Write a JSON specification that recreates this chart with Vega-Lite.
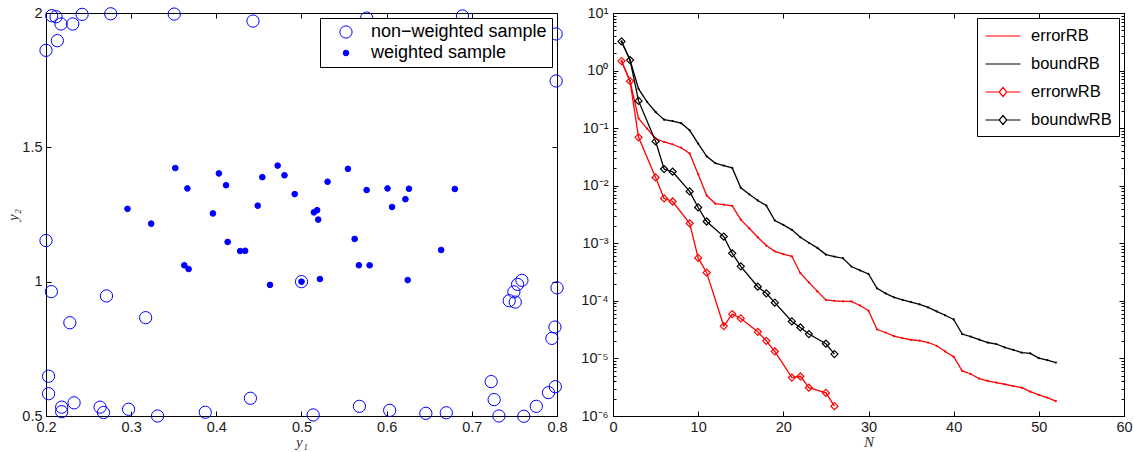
{
  "$schema": "https://vega.github.io/schema/vega-lite/v6.json",
  "padding": 5,
  "bounds": "flush",
  "spacing": 56,
  "resolve": {"legend": {"color": "independent", "size": "independent", "fill": "independent"}, "scale": {"color": "independent", "size": "independent", "fill": "independent"}},
  "config": {
    "font": "Liberation Sans",
    "view": {"stroke": null},
    "axis": {
      "grid": false,
      "domainColor": "#000000",
      "domainWidth": 1,
      "tickColor": "#000000",
      "tickWidth": 1,
      "tickSize": -5,
      "labelPadding": 9,
      "labelFont": "Liberation Sans",
      "labelFontSize": 14.5,
      "labelColor": "#1a1a1a",
      "labelFlush": false,
      "labelOverlap": false,
      "titleFont": "Liberation Serif",
      "titleFontStyle": "italic",
      "titleFontWeight": "normal",
      "titleFontSize": 15,
      "titleColor": "#333333",
      "titlePadding": 1
    }
  },
  "datasets": {
    "left": [
      {"y1": 0.2067, "y2": 1.990, "sample": "non−weighted sample"},
      {"y1": 0.2118, "y2": 1.986, "sample": "non−weighted sample"},
      {"y1": 0.2176, "y2": 1.959, "sample": "non−weighted sample"},
      {"y1": 0.2314, "y2": 1.959, "sample": "non−weighted sample"},
      {"y1": 0.2424, "y2": 1.995, "sample": "non−weighted sample"},
      {"y1": 0.276, "y2": 1.997, "sample": "non−weighted sample"},
      {"y1": 0.3506, "y2": 1.996, "sample": "non−weighted sample"},
      {"y1": 0.443, "y2": 1.970, "sample": "non−weighted sample"},
      {"y1": 0.2133, "y2": 1.897, "sample": "non−weighted sample"},
      {"y1": 0.2, "y2": 1.861, "sample": "non−weighted sample"},
      {"y1": 0.5765, "y2": 1.981, "sample": "non−weighted sample"},
      {"y1": 0.689, "y2": 1.989, "sample": "non−weighted sample"},
      {"y1": 0.799, "y2": 1.922, "sample": "non−weighted sample"},
      {"y1": 0.799, "y2": 1.747, "sample": "non−weighted sample"},
      {"y1": 0.2, "y2": 1.153, "sample": "non−weighted sample"},
      {"y1": 0.2063, "y2": 0.963, "sample": "non−weighted sample"},
      {"y1": 0.271, "y2": 0.947, "sample": "non−weighted sample"},
      {"y1": 0.228, "y2": 0.847, "sample": "non−weighted sample"},
      {"y1": 0.317, "y2": 0.866, "sample": "non−weighted sample"},
      {"y1": 0.203, "y2": 0.648, "sample": "non−weighted sample"},
      {"y1": 0.203, "y2": 0.583, "sample": "non−weighted sample"},
      {"y1": 0.2184, "y2": 0.533, "sample": "non−weighted sample"},
      {"y1": 0.2184, "y2": 0.516, "sample": "non−weighted sample"},
      {"y1": 0.233, "y2": 0.549, "sample": "non−weighted sample"},
      {"y1": 0.2635, "y2": 0.533, "sample": "non−weighted sample"},
      {"y1": 0.2675, "y2": 0.513, "sample": "non−weighted sample"},
      {"y1": 0.297, "y2": 0.525, "sample": "non−weighted sample"},
      {"y1": 0.331, "y2": 0.5, "sample": "non−weighted sample"},
      {"y1": 0.387, "y2": 0.514, "sample": "non−weighted sample"},
      {"y1": 0.44, "y2": 0.566, "sample": "non−weighted sample"},
      {"y1": 0.5137, "y2": 0.504, "sample": "non−weighted sample"},
      {"y1": 0.568, "y2": 0.536, "sample": "non−weighted sample"},
      {"y1": 0.6035, "y2": 0.521, "sample": "non−weighted sample"},
      {"y1": 0.646, "y2": 0.510, "sample": "non−weighted sample"},
      {"y1": 0.670, "y2": 0.512, "sample": "non−weighted sample"},
      {"y1": 0.7318, "y2": 0.5, "sample": "non−weighted sample"},
      {"y1": 0.761, "y2": 0.499, "sample": "non−weighted sample"},
      {"y1": 0.7757, "y2": 0.536, "sample": "non−weighted sample"},
      {"y1": 0.790, "y2": 0.587, "sample": "non−weighted sample"},
      {"y1": 0.798, "y2": 0.609, "sample": "non−weighted sample"},
      {"y1": 0.7227, "y2": 0.628, "sample": "non−weighted sample"},
      {"y1": 0.7262, "y2": 0.561, "sample": "non−weighted sample"},
      {"y1": 0.7588, "y2": 1.005, "sample": "non−weighted sample"},
      {"y1": 0.7537, "y2": 0.990, "sample": "non−weighted sample"},
      {"y1": 0.7494, "y2": 0.962, "sample": "non−weighted sample"},
      {"y1": 0.7439, "y2": 0.929, "sample": "non−weighted sample"},
      {"y1": 0.751, "y2": 0.924, "sample": "non−weighted sample"},
      {"y1": 0.8, "y2": 0.977, "sample": "non−weighted sample"},
      {"y1": 0.7976, "y2": 0.831, "sample": "non−weighted sample"},
      {"y1": 0.794, "y2": 0.789, "sample": "non−weighted sample"},
      {"y1": 0.5, "y2": 1.0, "sample": "non−weighted sample"},
      {"y1": 0.2957, "y2": 1.271, "sample": "weighted sample"},
      {"y1": 0.3235, "y2": 1.216, "sample": "weighted sample"},
      {"y1": 0.3518, "y2": 1.423, "sample": "weighted sample"},
      {"y1": 0.366, "y2": 1.347, "sample": "weighted sample"},
      {"y1": 0.3624, "y2": 1.061, "sample": "weighted sample"},
      {"y1": 0.3674, "y2": 1.047, "sample": "weighted sample"},
      {"y1": 0.396, "y2": 1.254, "sample": "weighted sample"},
      {"y1": 0.403, "y2": 1.403, "sample": "weighted sample"},
      {"y1": 0.4114, "y2": 1.359, "sample": "weighted sample"},
      {"y1": 0.4133, "y2": 1.148, "sample": "weighted sample"},
      {"y1": 0.428, "y2": 1.114, "sample": "weighted sample"},
      {"y1": 0.4338, "y2": 1.115, "sample": "weighted sample"},
      {"y1": 0.4486, "y2": 1.283, "sample": "weighted sample"},
      {"y1": 0.454, "y2": 1.389, "sample": "weighted sample"},
      {"y1": 0.463, "y2": 0.988, "sample": "weighted sample"},
      {"y1": 0.472, "y2": 1.432, "sample": "weighted sample"},
      {"y1": 0.48, "y2": 1.396, "sample": "weighted sample"},
      {"y1": 0.492, "y2": 1.326, "sample": "weighted sample"},
      {"y1": 0.5, "y2": 1.0, "sample": "weighted sample"},
      {"y1": 0.5145, "y2": 1.258, "sample": "weighted sample"},
      {"y1": 0.5184, "y2": 1.266, "sample": "weighted sample"},
      {"y1": 0.5196, "y2": 1.231, "sample": "weighted sample"},
      {"y1": 0.5216, "y2": 1.010, "sample": "weighted sample"},
      {"y1": 0.5306, "y2": 1.372, "sample": "weighted sample"},
      {"y1": 0.5545, "y2": 1.42, "sample": "weighted sample"},
      {"y1": 0.5624, "y2": 1.159, "sample": "weighted sample"},
      {"y1": 0.5674, "y2": 1.061, "sample": "weighted sample"},
      {"y1": 0.58, "y2": 1.061, "sample": "weighted sample"},
      {"y1": 0.5765, "y2": 1.341, "sample": "weighted sample"},
      {"y1": 0.601, "y2": 1.347, "sample": "weighted sample"},
      {"y1": 0.6063, "y2": 1.278, "sample": "weighted sample"},
      {"y1": 0.622, "y2": 1.307, "sample": "weighted sample"},
      {"y1": 0.6262, "y2": 1.346, "sample": "weighted sample"},
      {"y1": 0.6247, "y2": 1.006, "sample": "weighted sample"},
      {"y1": 0.664, "y2": 1.118, "sample": "weighted sample"},
      {"y1": 0.68, "y2": 1.345, "sample": "weighted sample"}
    ],
    "right": [
      {"N": 1, "value": 1.46, "series": "errorRB"},
      {"N": 2, "value": 0.655, "series": "errorRB"},
      {"N": 3, "value": 0.148, "series": "errorRB"},
      {"N": 4, "value": 0.0982, "series": "errorRB"},
      {"N": 5, "value": 0.0661, "series": "errorRB"},
      {"N": 6, "value": 0.0575, "series": "errorRB"},
      {"N": 7, "value": 0.0525, "series": "errorRB"},
      {"N": 8, "value": 0.0457, "series": "errorRB"},
      {"N": 9, "value": 0.0363, "series": "errorRB"},
      {"N": 10, "value": 0.0158, "series": "errorRB"},
      {"N": 11, "value": 0.00676, "series": "errorRB"},
      {"N": 12, "value": 0.0049, "series": "errorRB"},
      {"N": 13, "value": 0.00468, "series": "errorRB"},
      {"N": 14, "value": 0.00447, "series": "errorRB"},
      {"N": 15, "value": 0.00257, "series": "errorRB"},
      {"N": 16, "value": 0.00182, "series": "errorRB"},
      {"N": 17, "value": 0.00127, "series": "errorRB"},
      {"N": 18, "value": 9.12e-4, "series": "errorRB"},
      {"N": 19, "value": 7.24e-4, "series": "errorRB"},
      {"N": 20, "value": 6.46e-4, "series": "errorRB"},
      {"N": 21, "value": 5.94e-4, "series": "errorRB"},
      {"N": 22, "value": 3.02e-4, "series": "errorRB"},
      {"N": 23, "value": 2.09e-4, "series": "errorRB"},
      {"N": 24, "value": 1.46e-4, "series": "errorRB"},
      {"N": 25, "value": 1.04e-4, "series": "errorRB"},
      {"N": 26, "value": 1.0e-4, "series": "errorRB"},
      {"N": 27, "value": 9.77e-5, "series": "errorRB"},
      {"N": 28, "value": 9.77e-5, "series": "errorRB"},
      {"N": 29, "value": 8.32e-5, "series": "errorRB"},
      {"N": 30, "value": 6.73e-5, "series": "errorRB"},
      {"N": 31, "value": 3.18e-5, "series": "errorRB"},
      {"N": 32, "value": 2.82e-5, "series": "errorRB"},
      {"N": 33, "value": 2.44e-5, "series": "errorRB"},
      {"N": 34, "value": 2.25e-5, "series": "errorRB"},
      {"N": 35, "value": 2.11e-5, "series": "errorRB"},
      {"N": 36, "value": 2.04e-5, "series": "errorRB"},
      {"N": 37, "value": 1.89e-5, "series": "errorRB"},
      {"N": 38, "value": 1.66e-5, "series": "errorRB"},
      {"N": 39, "value": 1.32e-5, "series": "errorRB"},
      {"N": 40, "value": 1.07e-5, "series": "errorRB"},
      {"N": 41, "value": 6.08e-6, "series": "errorRB"},
      {"N": 42, "value": 5.37e-6, "series": "errorRB"},
      {"N": 43, "value": 4.47e-6, "series": "errorRB"},
      {"N": 44, "value": 4.07e-6, "series": "errorRB"},
      {"N": 45, "value": 3.80e-6, "series": "errorRB"},
      {"N": 46, "value": 3.56e-6, "series": "errorRB"},
      {"N": 47, "value": 3.31e-6, "series": "errorRB"},
      {"N": 48, "value": 3.11e-6, "series": "errorRB"},
      {"N": 49, "value": 2.65e-6, "series": "errorRB"},
      {"N": 50, "value": 2.32e-6, "series": "errorRB"},
      {"N": 51, "value": 2.09e-6, "series": "errorRB"},
      {"N": 52, "value": 1.82e-6, "series": "errorRB"},
      {"N": 1, "value": 3.21, "series": "boundRB"},
      {"N": 2, "value": 1.52, "series": "boundRB"},
      {"N": 3, "value": 0.479, "series": "boundRB"},
      {"N": 4, "value": 0.286, "series": "boundRB"},
      {"N": 5, "value": 0.191, "series": "boundRB"},
      {"N": 6, "value": 0.140, "series": "boundRB"},
      {"N": 7, "value": 0.133, "series": "boundRB"},
      {"N": 8, "value": 0.122, "series": "boundRB"},
      {"N": 9, "value": 0.0918, "series": "boundRB"},
      {"N": 10, "value": 0.0537, "series": "boundRB"},
      {"N": 11, "value": 0.0324, "series": "boundRB"},
      {"N": 12, "value": 0.0247, "series": "boundRB"},
      {"N": 13, "value": 0.0224, "series": "boundRB"},
      {"N": 14, "value": 0.0204, "series": "boundRB"},
      {"N": 15, "value": 0.00923, "series": "boundRB"},
      {"N": 16, "value": 0.00708, "series": "boundRB"},
      {"N": 17, "value": 0.00555, "series": "boundRB"},
      {"N": 18, "value": 0.00452, "series": "boundRB"},
      {"N": 19, "value": 0.00249, "series": "boundRB"},
      {"N": 20, "value": 0.00209, "series": "boundRB"},
      {"N": 21, "value": 0.00171, "series": "boundRB"},
      {"N": 22, "value": 0.00127, "series": "boundRB"},
      {"N": 23, "value": 0.00102, "series": "boundRB"},
      {"N": 24, "value": 8.32e-4, "series": "boundRB"},
      {"N": 25, "value": 6.37e-4, "series": "boundRB"},
      {"N": 26, "value": 5.89e-4, "series": "boundRB"},
      {"N": 27, "value": 5.50e-4, "series": "boundRB"},
      {"N": 28, "value": 3.94e-4, "series": "boundRB"},
      {"N": 29, "value": 3.39e-4, "series": "boundRB"},
      {"N": 30, "value": 2.93e-4, "series": "boundRB"},
      {"N": 31, "value": 1.65e-4, "series": "boundRB"},
      {"N": 32, "value": 1.35e-4, "series": "boundRB"},
      {"N": 33, "value": 1.15e-4, "series": "boundRB"},
      {"N": 34, "value": 1.04e-4, "series": "boundRB"},
      {"N": 35, "value": 9.55e-5, "series": "boundRB"},
      {"N": 36, "value": 8.71e-5, "series": "boundRB"},
      {"N": 37, "value": 7.69e-5, "series": "boundRB"},
      {"N": 38, "value": 6.55e-5, "series": "boundRB"},
      {"N": 39, "value": 5.62e-5, "series": "boundRB"},
      {"N": 40, "value": 4.75e-5, "series": "boundRB"},
      {"N": 41, "value": 2.65e-5, "series": "boundRB"},
      {"N": 42, "value": 2.40e-5, "series": "boundRB"},
      {"N": 43, "value": 2.13e-5, "series": "boundRB"},
      {"N": 44, "value": 1.89e-5, "series": "boundRB"},
      {"N": 45, "value": 1.78e-5, "series": "boundRB"},
      {"N": 46, "value": 1.55e-5, "series": "boundRB"},
      {"N": 47, "value": 1.41e-5, "series": "boundRB"},
      {"N": 48, "value": 1.26e-5, "series": "boundRB"},
      {"N": 49, "value": 1.22e-5, "series": "boundRB"},
      {"N": 50, "value": 1.01e-5, "series": "boundRB"},
      {"N": 51, "value": 9.33e-6, "series": "boundRB"},
      {"N": 52, "value": 8.47e-6, "series": "boundRB"},
      {"N": 1, "value": 1.46, "series": "errorwRB"},
      {"N": 2, "value": 0.654, "series": "errorwRB"},
      {"N": 3, "value": 0.0693, "series": "errorwRB"},
      {"N": 5, "value": 0.0139, "series": "errorwRB"},
      {"N": 6, "value": 0.00601, "series": "errorwRB"},
      {"N": 7, "value": 0.00532, "series": "errorwRB"},
      {"N": 9, "value": 0.00222, "series": "errorwRB"},
      {"N": 10, "value": 5.57e-4, "series": "errorwRB"},
      {"N": 11, "value": 3.09e-4, "series": "errorwRB"},
      {"N": 13, "value": 3.65e-5, "series": "errorwRB"},
      {"N": 14, "value": 5.9e-5, "series": "errorwRB"},
      {"N": 15, "value": 4.95e-5, "series": "errorwRB"},
      {"N": 17, "value": 2.9e-5, "series": "errorwRB"},
      {"N": 18, "value": 2.02e-5, "series": "errorwRB"},
      {"N": 19, "value": 1.32e-5, "series": "errorwRB"},
      {"N": 21, "value": 4.65e-6, "series": "errorwRB"},
      {"N": 22, "value": 4.9e-6, "series": "errorwRB"},
      {"N": 23, "value": 3.1e-6, "series": "errorwRB"},
      {"N": 25, "value": 2.52e-6, "series": "errorwRB"},
      {"N": 26, "value": 1.48e-6, "series": "errorwRB"},
      {"N": 1, "value": 3.21, "series": "boundwRB"},
      {"N": 2, "value": 1.52, "series": "boundwRB"},
      {"N": 3, "value": 0.297, "series": "boundwRB"},
      {"N": 5, "value": 0.059, "series": "boundwRB"},
      {"N": 6, "value": 0.0195, "series": "boundwRB"},
      {"N": 7, "value": 0.0175, "series": "boundwRB"},
      {"N": 9, "value": 0.00796, "series": "boundwRB"},
      {"N": 10, "value": 0.00419, "series": "boundwRB"},
      {"N": 11, "value": 0.00239, "series": "boundwRB"},
      {"N": 13, "value": 0.00131, "series": "boundwRB"},
      {"N": 14, "value": 6.7e-4, "series": "boundwRB"},
      {"N": 15, "value": 3.98e-4, "series": "boundwRB"},
      {"N": 17, "value": 1.76e-4, "series": "boundwRB"},
      {"N": 18, "value": 1.35e-4, "series": "boundwRB"},
      {"N": 19, "value": 9.3e-5, "series": "boundwRB"},
      {"N": 21, "value": 4.39e-5, "series": "boundwRB"},
      {"N": 22, "value": 3.45e-5, "series": "boundwRB"},
      {"N": 23, "value": 2.65e-5, "series": "boundwRB"},
      {"N": 25, "value": 1.8e-5, "series": "boundwRB"},
      {"N": 26, "value": 1.19e-5, "series": "boundwRB"}
    ]
  },
  "hconcat": [
    {
      "width": 511,
      "height": 403,
      "data": {"name": "left"},
      "resolve": {"axis": {"x": "independent", "y": "independent"}},
      "layer": [
        {
          "mark": {"type": "point", "shape": "circle", "stroke": "#0000ff", "strokeWidth": 1, "opacity": 1},
          "encoding": {
            "x": {"field": "y1", "type": "quantitative",
              "scale": {"domain": [0.2, 0.8], "nice": false, "zero": false},
              "axis": {"values": [0.2, 0.3, 0.4, 0.5, 0.6, 0.7, 0.8], "format": "~g", "title": "y₁"}},
            "y": {"field": "y2", "type": "quantitative",
              "scale": {"domain": [0.5, 2], "nice": false, "zero": false},
              "axis": {"values": [0.5, 1, 1.5, 2], "format": "~g", "title": "y₂"}},
            "fill": {"field": "sample", "type": "nominal",
              "scale": {"domain": ["non−weighted sample", "weighted sample"], "range": ["transparent", "#0000ff"]},
              "legend": {"title": null, "orient": "top-right", "offset": 5, "padding": 5,
                "strokeColor": "#000000", "fillColor": "#ffffff",
                "symbolType": "circle", "symbolStrokeColor": "#0000ff", "symbolStrokeWidth": 1, "symbolOpacity": 1,
                "symbolOffset": 12, "labelOffset": 16, "labelFontSize": 18, "labelFont": "Liberation Sans", "labelColor": "#000000", "rowPadding": 3, "labelLimit": 400,
                "encode": {"symbols": {"update": {"stroke": {"value": "#0000ff"}, "strokeWidth": {"value": 1}, "opacity": {"value": 1}}}}}},
            "size": {"field": "sample", "type": "nominal",
              "scale": {"domain": ["non−weighted sample", "weighted sample"], "range": [150, 32]},
              "legend": {"title": null, "orient": "top-right", "offset": 5, "padding": 5,
                "strokeColor": "#000000", "fillColor": "#ffffff",
                "symbolType": "circle", "symbolStrokeColor": "#0000ff", "symbolStrokeWidth": 1, "symbolOpacity": 1,
                "symbolOffset": 12, "labelOffset": 16, "labelFontSize": 18, "labelFont": "Liberation Sans", "labelColor": "#000000", "rowPadding": 3, "labelLimit": 400,
                "encode": {"symbols": {"update": {"stroke": {"value": "#0000ff"}, "strokeWidth": {"value": 1}, "opacity": {"value": 1}}}}}}
          }
        },
        {
          "mark": {"type": "point", "opacity": 0},
          "encoding": {
            "x": {"field": "y1", "type": "quantitative",
              "axis": {"orient": "top", "values": [0.2, 0.3, 0.4, 0.5, 0.6, 0.7, 0.8], "labels": false, "title": null}},
            "y": {"field": "y2", "type": "quantitative",
              "axis": {"orient": "right", "values": [0.5, 1, 1.5, 2], "labels": false, "title": null}}
          }
        }
      ]
    },
    {
      "width": 511,
      "height": 403,
      "data": {"name": "right"},
      "resolve": {"axis": {"x": "independent", "y": "independent"}},
      "layer": [
        {
          "mark": {"type": "line", "strokeWidth": 1.3},
          "encoding": {
            "x": {"field": "N", "type": "quantitative",
              "scale": {"domain": [0, 60], "nice": false, "zero": false},
              "axis": {"values": [0, 10, 20, 30, 40, 50, 60], "title": "N"}},
            "y": {"field": "value", "type": "quantitative",
              "scale": {"type": "log", "domain": [1e-6, 10], "nice": false},
              "axis": {"orient": "left", "values": [1e-6, 1e-5, 1e-4, 1e-3, 1e-2, 1e-1, 1, 10], "title": null, "labelPadding": 10,
                "labelExpr": "datum.value > 5 ? '10¹' : datum.value > 0.5 ? '10⁰' : datum.value > 0.05 ? '10⁻¹' : datum.value > 0.005 ? '10⁻²' : datum.value > 0.0005 ? '10⁻³' : datum.value > 0.00005 ? '10⁻⁴' : datum.value > 0.000005 ? '10⁻⁵' : '10⁻⁶'"}},
            "color": {"field": "series", "type": "nominal",
              "scale": {"domain": ["errorRB", "boundRB", "errorwRB", "boundwRB"], "range": ["#ff0000", "#000000", "#ff0000", "#000000"]},
              "legend": {"title": null, "orient": "top-right", "offset": 5, "padding": 7,
                "strokeColor": "#000000", "fillColor": "#ffffff",
                "symbolSize": 400, "symbolStrokeWidth": 1.2, "symbolOffset": 8, "rowPadding": 8, "labelOffset": 17,
                "labelFontSize": 16.5, "labelFont": "Liberation Sans", "labelColor": "#000000", "labelLimit": 400,
                "encode": {"symbols": {"update": {"fill": {"value": "transparent"}, "fillOpacity": {"value": 0}, "opacity": {"value": 1}, "shape": {"signal": "indexof(datum.value, 'wRB') >= 0 ? 'M-1.75,0L-0.38,0M0.38,0L1.75,0M-0.38,0L0,-0.45L0.38,0L0,0.45Z' : 'M-1.75,0L1.75,0'"}}}}}}
          }
        },
        {
          "transform": [{"filter": "indexof(datum.series, 'wRB') >= 0"}],
          "mark": {"type": "point", "shape": "diamond", "filled": false, "size": 50, "strokeWidth": 1.2, "opacity": 1},
          "encoding": {
            "x": {"field": "N", "type": "quantitative", "axis": null},
            "y": {"field": "value", "type": "quantitative", "axis": null},
            "color": {"field": "series", "type": "nominal"}
          }
        },
        {
          "transform": [{"filter": "datum.series == 'errorRB'"}],
          "mark": {"type": "point", "shape": "circle", "filled": true, "size": 5, "opacity": 1, "color": "#ff0000"},
          "encoding": {
            "x": {"field": "N", "type": "quantitative", "axis": null},
            "y": {"field": "value", "type": "quantitative", "axis": null}
          }
        },
        {
          "transform": [{"filter": "datum.series == 'boundRB'"}],
          "mark": {"type": "point", "shape": "circle", "filled": true, "size": 5, "opacity": 1, "color": "#000000"},
          "encoding": {
            "x": {"field": "N", "type": "quantitative", "axis": null},
            "y": {"field": "value", "type": "quantitative", "axis": null}
          }
        },
        {
          "mark": {"type": "point", "opacity": 0},
          "encoding": {
            "x": {"field": "N", "type": "quantitative",
              "axis": {"orient": "top", "values": [0, 10, 20, 30, 40, 50, 60], "labels": false, "title": null}},
            "y": {"field": "value", "type": "quantitative",
              "axis": {"orient": "right", "values": [1e-6, 1e-5, 1e-4, 1e-3, 1e-2, 1e-1, 1, 10], "labels": false, "title": null}}
          }
        },
        {
          "mark": {"type": "point", "opacity": 0},
          "encoding": {
            "x": {"field": "N", "type": "quantitative", "axis": null},
            "y": {"field": "value", "type": "quantitative",
              "axis": {"orient": "left", "domain": false, "labels": false, "title": null, "tickSize": -3,
                "values": [2e-6, 3e-6, 4e-6, 5e-6, 6e-6, 7e-6, 8e-6, 9e-6, 2e-5, 3e-5, 4e-5, 5e-5, 6e-5, 7e-5, 8e-5, 9e-5, 2e-4, 3e-4, 4e-4, 5e-4, 6e-4, 7e-4, 8e-4, 9e-4, 0.002, 0.003, 0.004, 0.005, 0.006, 0.007, 0.008, 0.009, 0.02, 0.03, 0.04, 0.05, 0.06, 0.07, 0.08, 0.09, 0.2, 0.3, 0.4, 0.5, 0.6, 0.7, 0.8, 0.9, 2, 3, 4, 5, 6, 7, 8, 9]}}
          }
        },
        {
          "mark": {"type": "point", "opacity": 0},
          "encoding": {
            "x": {"field": "N", "type": "quantitative", "axis": null},
            "y": {"field": "value", "type": "quantitative",
              "axis": {"orient": "right", "domain": false, "labels": false, "title": null, "tickSize": -3,
                "values": [2e-6, 3e-6, 4e-6, 5e-6, 6e-6, 7e-6, 8e-6, 9e-6, 2e-5, 3e-5, 4e-5, 5e-5, 6e-5, 7e-5, 8e-5, 9e-5, 2e-4, 3e-4, 4e-4, 5e-4, 6e-4, 7e-4, 8e-4, 9e-4, 0.002, 0.003, 0.004, 0.005, 0.006, 0.007, 0.008, 0.009, 0.02, 0.03, 0.04, 0.05, 0.06, 0.07, 0.08, 0.09, 0.2, 0.3, 0.4, 0.5, 0.6, 0.7, 0.8, 0.9, 2, 3, 4, 5, 6, 7, 8, 9]}}
          }
        }
      ]
    }
  ]
}
